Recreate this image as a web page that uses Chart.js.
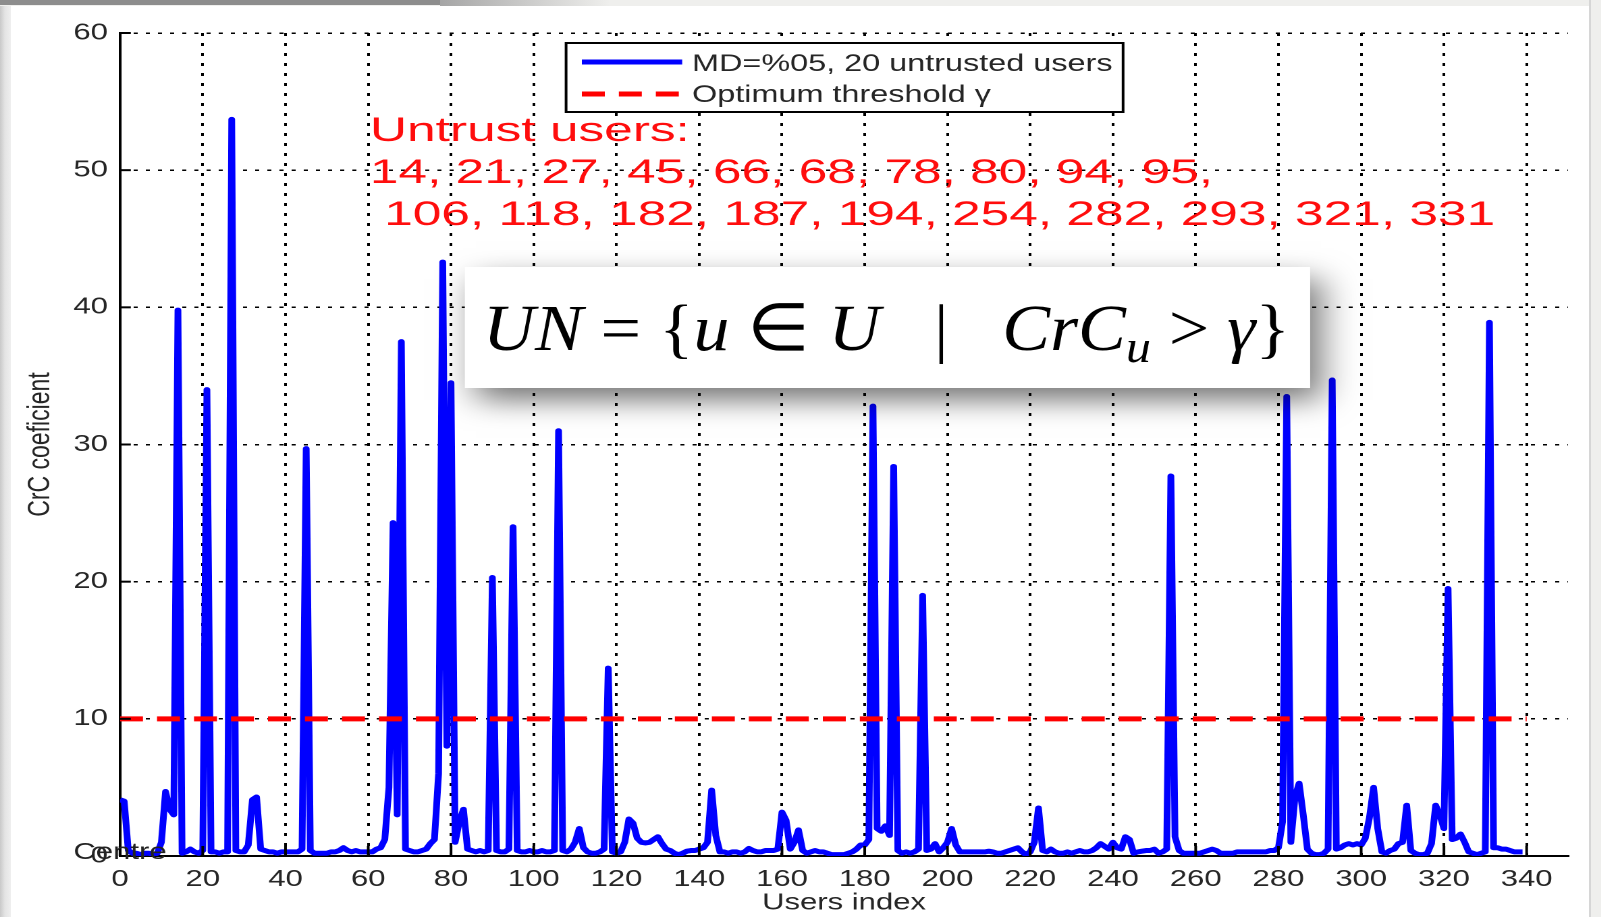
<!DOCTYPE html>
<html>
<head>
<meta charset="utf-8">
<script src="https://cdn.jsdelivr.net/npm/chart.js@4.4.1/dist/chart.umd.min.js"></script>
<style>
html,body{margin:0;padding:0;}
body{width:1601px;height:917px;overflow:hidden;background:#ffffff;position:relative;}
.frame{position:absolute;}
#wrap{position:absolute;left:0;top:0;width:1186px;height:917px;transform:scaleX(1.35);transform-origin:0 0;}
</style>
</head>
<body>
<div class="frame" style="left:0;top:0;width:11px;height:917px;background:linear-gradient(to right,#c9c9c9,#e4e4e4 45%,#efefef);"></div>
<div class="frame" style="left:0;top:0;width:1601px;height:6px;background:#efefed;"></div>
<div class="frame" style="left:0;top:0;width:440px;height:5px;background:#8d8d8d;"></div>
<div class="frame" style="left:440px;top:0;width:170px;height:6px;background:linear-gradient(to right,#a5a5a5,#efefed);"></div>
<div class="frame" style="left:1589px;top:0;width:10px;height:917px;background:#efefed;border-left:2px solid #d6d6d6;"></div>
<div id="wrap"><canvas id="c"></canvas></div>
<script>
// ---- data ----
const userCrC = [
  4.1, 4.0, 0.4, 0.2, 0.2, 0.1, 0.2, 0.2, 0.1, 0.2,
  1.0, 4.7, 3.4, 3.0, 39.8, 0.2, 0.3, 0.5, 0.3, 0.2,
  0.4, 34.0, 0.3, 0.3, 0.2, 0.3, 0.3, 53.7, 0.4, 0.3,
  0.3, 0.8, 4.1, 4.3, 0.5, 0.4, 0.3, 0.3, 0.2, 0.3,
  0.3, 0.3, 0.3, 0.3, 0.5, 29.7, 0.4, 0.2, 0.2, 0.2,
  0.2, 0.3, 0.3, 0.4, 0.6, 0.4, 0.3, 0.4, 0.3, 0.3,
  0.3, 0.3, 0.5, 0.6, 1.2, 5.0, 24.3, 3.0, 37.5, 0.5,
  0.4, 0.3, 0.3, 0.4, 0.5, 0.9, 1.2, 6.0, 43.3, 8.0,
  34.5, 1.0, 2.5, 3.4, 0.5, 0.4, 0.3, 0.4, 0.3, 0.4,
  20.3, 0.4, 0.3, 0.3, 0.5, 24.0, 0.4, 0.3, 0.3, 0.4,
  0.3, 0.3, 0.4, 0.3, 0.3, 0.4, 31.0, 0.4, 0.3, 0.5,
  1.0, 2.0, 0.6, 0.3, 0.2, 0.2, 0.3, 0.5, 13.7, 0.3,
  0.2, 0.3, 1.0, 2.7, 2.4, 1.3, 1.0, 0.95, 1.0, 1.2,
  1.4, 0.9, 0.5, 0.4, 0.2, 0.1, 0.2, 0.35, 0.4, 0.4,
  0.5, 0.6, 1.0, 4.8, 1.5, 0.3, 0.3, 0.2, 0.3, 0.3,
  0.2, 0.3, 0.55, 0.4, 0.3, 0.3, 0.4, 0.4, 0.4, 0.5,
  3.2, 2.6, 0.5, 1.0, 1.9, 0.4, 0.2, 0.3, 0.4, 0.3,
  0.3, 0.2, 0.1, 0.1, 0.1, 0.1, 0.2, 0.3, 0.5, 0.8,
  0.8, 1.2, 32.8, 2.0, 1.8, 2.2, 1.5, 28.4, 0.4, 0.2,
  0.3, 0.2, 0.3, 0.5, 19.0, 0.4, 0.5, 0.9, 0.3, 0.6,
  1.0, 2.0, 0.8, 0.3, 0.3, 0.3, 0.3, 0.3, 0.3, 0.3,
  0.35, 0.3, 0.2, 0.2, 0.3, 0.4, 0.5, 0.6, 0.3, 0.1,
  0.3, 1.0, 3.5, 0.4, 0.3, 0.5, 0.3, 0.2, 0.2, 0.3,
  0.2, 0.3, 0.4, 0.3, 0.3, 0.4, 0.6, 0.9, 0.7, 0.5,
  1.0, 0.6, 0.5, 1.4, 1.2, 0.2, 0.3, 0.35, 0.4, 0.4,
  0.5, 0.2, 0.3, 0.5, 27.7, 1.4, 0.4, 0.2, 0.2, 0.2,
  0.2, 0.2, 0.3, 0.4, 0.5, 0.4, 0.2, 0.2, 0.2, 0.2,
  0.3, 0.3, 0.3, 0.3, 0.3, 0.3, 0.3, 0.3, 0.4, 0.4,
  0.6, 2.5, 33.5, 1.0, 4.3, 5.3, 3.0, 0.5, 0.2, 0.1,
  0.1, 0.2, 0.5, 34.7, 0.5, 0.6, 0.8, 0.9, 0.8, 0.9,
  0.8, 1.3, 2.8, 5.0, 2.0, 0.3, 0.2, 0.4, 0.5, 0.9,
  1.0, 3.7, 0.4, 0.2, 0.1, 0.1, 0.2, 0.9, 3.7, 3.0,
  2.0, 19.5, 1.2, 1.3, 1.6, 1.0, 0.3, 0.2, 0.1, 0.2,
  0.3, 38.9, 0.6, 0.6, 0.5, 0.5, 0.4, 0.3, 0.3, 0.3
];
const thresholdGamma = 10;
const thresholdSpan = [0, 340];
const xTickValues = [0, 20, 40, 60, 80, 100, 120, 140, 160, 180, 200, 220, 240, 260, 280, 300, 320, 340];
const yTickValues = [0, 10, 20, 30, 40, 50, 60];
const untrustedUsers = [14, 21, 27, 45, 66, 68, 78, 80, 94, 95, 106, 118, 182, 187, 194, 254, 282, 293, 321, 331];
const seriesLabels = ['MD=%05, 20 untrusted users', 'Optimum threshold \u03b3'];
const axisTitles = {x: 'Users index', y: 'CrC coeficient'};

const SANS = '"Liberation Sans", Arial, sans-serif';
const SERIF = '"Liberation Serif", "Times New Roman", serif';
const TXT = '#262626';

const overlayPlugin = {
  id: 'overlay',
  afterDatasetsDraw(chart) {
    const {ctx, scales: {x, y}} = chart;
    ctx.save();
    ctx.strokeStyle = '#000';
    ctx.lineWidth = 2;
    ctx.setLineDash([]);
    x.ticks.forEach(t => {
      const px = x.getPixelForValue(t.value);
      ctx.beginPath(); ctx.moveTo(px, y.bottom); ctx.lineTo(px, y.bottom - 10); ctx.stroke();
    });
    y.ticks.forEach(t => {
      const py = y.getPixelForValue(t.value);
      ctx.beginPath(); ctx.moveTo(x.left, py); ctx.lineTo(x.left + 8, py); ctx.stroke();
    });
    ctx.restore();
  },
  afterDraw(chart) {
    const {ctx} = chart;
    const dpr = chart.currentDevicePixelRatio || 1;

    // "Centre" leftover label near origin
    ctx.save();
    ctx.font = '23px ' + SANS;
    ctx.fillStyle = '#222';
    ctx.textBaseline = 'alphabetic';
    ctx.fillText('Centre', 54.4, 859);
    ctx.restore();

    // red list of untrusted users
    ctx.save();
    ctx.fillStyle = '#ff0d0d';
    ctx.font = '34px ' + SANS;
    ctx.textBaseline = 'alphabetic';
    const lines = [
      'Untrust users:',
      untrustedUsers.slice(0, 10).join(', ') + ',',
      ' ' + untrustedUsers.slice(10).join(', ')
    ];
    const base = [141, 183, 225];
    lines.forEach((s, i) => {
      ctx.save();
      ctx.translate(274, base[i]);
      ctx.scale(1.12, 1);
      ctx.fillText(s, 0, 0);
      ctx.restore();
    });
    ctx.restore();

    // formula box with shadow
    const bx = 344.4, by = 267, bw = 626, bh = 121;
    ctx.save();
    ctx.shadowColor = 'rgba(0,0,0,0.55)';
    ctx.shadowBlur = 26 * dpr;
    ctx.shadowOffsetX = 8 * dpr;
    ctx.shadowOffsetY = 12 * dpr;
    ctx.fillStyle = '#fff';
    ctx.fillRect(bx, by, bw, bh);
    ctx.restore();
    ctx.save();
    ctx.fillStyle = '#fff';
    ctx.fillRect(bx, by, bw, bh);
    ctx.restore();

    // formula text
    const fs = 66;
    const parts = [
      ['UN', 'i'], [' = ', 'r'], ['{', 'r'], ['u', 'i'], [' \u2208 ', 'r'], ['U', 'i'],
      ['\u2002 |\u2002 ', 'r'], ['CrC', 'i'], ['u', 's'], [' > ', 'r'], ['\u03b3', 'i'], ['}', 'r']
    ];
    const fontFor = k => k === 'i' ? 'italic ' + fs + 'px ' + SERIF
                      : k === 's' ? 'italic ' + Math.round(fs * 0.7) + 'px ' + SERIF
                      : fs + 'px ' + SERIF;
    ctx.save();
    let total = 0;
    const widths = parts.map(p => { ctx.font = fontFor(p[1]); const w = ctx.measureText(p[0]).width; total += w; return w; });
    const fx0 = 357.8, fx1 = 955.5, fbase = 350;
    const sx = (fx1 - fx0) / total;
    ctx.translate(fx0, fbase);
    ctx.scale(sx, 1);
    ctx.fillStyle = '#000';
    ctx.textBaseline = 'alphabetic';
    let cx = 0;
    parts.forEach((p, i) => {
      ctx.font = fontFor(p[1]);
      ctx.fillText(p[0], cx, p[1] === 's' ? 12 : 0);
      cx += widths[i];
    });
    ctx.restore();

    // legend box
    const L = 419.3, T = 43, W = 412.6, H = 69;
    ctx.save();
    ctx.fillStyle = '#fff';
    ctx.fillRect(L, T, W, H);
    ctx.lineWidth = 2;
    ctx.strokeStyle = '#000';
    ctx.strokeRect(L, T, W, H);
    const rows = [{ds: chart.data.datasets[1], ly: 62, ty: 71}, {ds: chart.data.datasets[0], ly: 94, ty: 102}];
    rows.forEach(r => {
      ctx.save();
      ctx.strokeStyle = r.ds.borderColor;
      ctx.lineWidth = r.ds.borderWidth;
      ctx.setLineDash(r.ds.borderDash || []);
      ctx.beginPath();
      ctx.moveTo(L + 11.7, r.ly);
      ctx.lineTo(L + 86, r.ly);
      ctx.stroke();
      ctx.restore();
      ctx.font = '24px ' + SANS;
      ctx.fillStyle = TXT;
      ctx.textBaseline = 'alphabetic';
      ctx.fillText(r.ds.label, L + 93.3, r.ty);
    });
    ctx.restore();
  }
};

const ctx = document.getElementById('c').getContext('2d');
new Chart(ctx, {
  type: 'line',
  data: {
    datasets: [
      {
        label: seriesLabels[1],
        data: thresholdSpan.map(v => ({x: v, y: thresholdGamma})),
        borderColor: '#ff0000',
        borderWidth: 5,
        borderDash: [17, 10.4],
        pointRadius: 0,
        fill: false,
        tension: 0,
        order: 0
      },
      {
        label: seriesLabels[0],
        data: userCrC.map((v, i) => ({x: i, y: v})),
        borderColor: '#0000ff',
        borderWidth: 5,
        borderJoinStyle: 'round',
        pointRadius: 0,
        fill: false,
        tension: 0,
        order: 1
      }
    ]
  },
  options: {
    responsive: true,
    maintainAspectRatio: false,
    animation: false,
    devicePixelRatio: 2,
    layout: {padding: {top: 33, right: 24.5, left: 0, bottom: 0}},
    plugins: {legend: {display: false}, tooltip: {enabled: false}},
    scales: {
      x: {
        type: 'linear', min: 0, max: 350,
        afterBuildTicks: s => { s.ticks = xTickValues.map(v => ({value: v})); },
        afterFit: s => { s.height = 61; },
        ticks: {font: {family: SANS, size: 23}, color: TXT, padding: 10, maxRotation: 0, autoSkip: false},
        grid: {color: '#000', lineWidth: 2, drawTicks: false},
        border: {display: true, color: '#000', width: 2, dash: [3, 7]},
        title: {display: true, text: axisTitles.x, font: {family: SANS, size: 23}, color: TXT, padding: {top: 0, bottom: 0}}
      },
      y: {
        min: 0, max: 60,
        afterBuildTicks: s => { s.ticks = yTickValues.map(v => ({value: v})); },
        afterFit: s => { s.width = 88.9; },
        ticks: {font: {family: SANS, size: 23}, color: TXT, padding: 9},
        grid: {color: '#000', lineWidth: 1.5, drawTicks: false},
        border: {display: true, color: '#000', width: 2, dash: [3, 6]},
        title: {display: true, text: axisTitles.y, font: {family: SANS, size: 23}, color: TXT, padding: {top: 16.6, bottom: 0}}
      }
    }
  },
  plugins: [overlayPlugin]
});
</script>
</body>
</html>
